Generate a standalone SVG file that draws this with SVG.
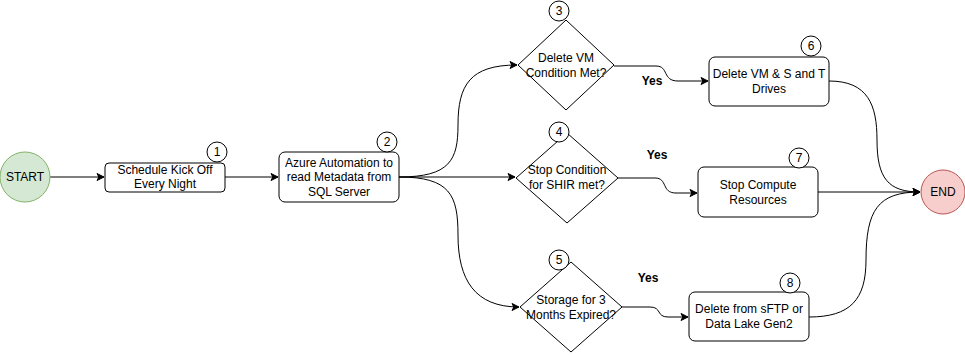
<svg xmlns="http://www.w3.org/2000/svg" width="965" height="355" viewBox="0 0 965 355">
  <style>
    text { font-family: "Liberation Sans", Arial, sans-serif; font-size: 12px; fill: #000; text-anchor: middle; }
    .box { fill: #fff; stroke: #000; stroke-width: 1; }
    .badge { fill: #fff; stroke: #000; stroke-width: 1; }
    .edge { fill: none; stroke: #000; stroke-width: 1; marker-end: url(#arrow); }
    .yes { font-weight: bold; }
  </style>
  <defs>
    <marker id="arrow" markerWidth="10" markerHeight="10" refX="8" refY="5" orient="auto" markerUnits="userSpaceOnUse">
      <path d="M1,1.5 L8,5 L1,8.5 L2.8,5 Z" fill="#000" stroke="#000" stroke-width="1"/>
    </marker>
  </defs>
  <rect width="965" height="355" fill="#fff"/>

  <g id="connectors">
    <path class="edge" d="M50,177 L104,177"/>
    <path class="edge" d="M225,177 L278,177"/>
    <path class="edge" d="M399,177 C450,177 458,160 458,125 C458,85 470,65 517,65"/>
    <path class="edge" d="M399,177 L515,177"/>
    <path class="edge" d="M399,177 C450,177 458,195 458,235 C458,280 475,307 519,307"/>
    <path class="edge" d="M614,66 L656,66 C669,66 662,81 678,81 L708,81"/>
    <path class="edge" d="M618,178 L655,178 C668,178 661,193 676,193 L697,193"/>
    <path class="edge" d="M622,307 L650,307 C662,307 656,317 668,317 L688,317"/>
    <path class="edge" d="M829,81 C868,81 877,105 877,140 C877,178 888,192 920,192"/>
    <path class="edge" d="M818,192 L920,192"/>
    <path class="edge" d="M809,317 C850,317 866,300 866,260 C866,210 878,192 920,192"/>
    <text class="yes" x="652" y="85">Yes</text>
    <text class="yes" x="657" y="159">Yes</text>
    <text class="yes" x="648" y="282">Yes</text>
  </g>

  <g id="start">
    <circle cx="25" cy="177" r="25" fill="#d5e8d4" stroke="#82b366"/>
    <text x="25" y="181">START</text>
  </g>

  <g id="step1">
    <rect class="box" x="105" y="163" width="120" height="29" rx="4"/>
    <text x="165" y="174">Schedule Kick Off</text>
    <text x="165" y="188">Every Night</text>
    <circle class="badge" cx="217" cy="152" r="10"/>
    <text x="217" y="156">1</text>
  </g>

  <g id="step2">
    <rect class="box" x="279" y="152" width="120" height="50" rx="6"/>
    <text x="339" y="167">Azure Automation to</text>
    <text x="339" y="181">read Metadata from</text>
    <text x="339" y="196">SQL Server</text>
    <circle class="badge" cx="387" cy="142" r="10"/>
    <text x="387" y="146">2</text>
  </g>

  <g id="step3">
    <polygon class="box" points="566,20 614,65 566,110 518,65"/>
    <text x="566" y="62">Delete VM</text>
    <text x="566" y="77">Condition Met?</text>
    <circle class="badge" cx="559" cy="11" r="10"/>
    <text x="559" y="15">3</text>
  </g>

  <g id="step4">
    <polygon class="box" points="567,133 618,178 567,223 516,178"/>
    <text x="567" y="174">Stop Condition</text>
    <text x="567" y="189">for SHIR met?</text>
    <circle class="badge" cx="559" cy="132" r="10"/>
    <text x="559" y="136">4</text>
  </g>

  <g id="step5">
    <polygon class="box" points="571,262 622,307 571,352 520,307"/>
    <text x="571" y="304">Storage for 3</text>
    <text x="571" y="319">Months Expired?</text>
    <circle class="badge" cx="559" cy="260" r="10"/>
    <text x="559" y="264">5</text>
  </g>

  <g id="step6">
    <rect class="box" x="709" y="57" width="120" height="49" rx="6"/>
    <text x="769" y="78">Delete VM &amp; S and T</text>
    <text x="769" y="93">Drives</text>
    <circle class="badge" cx="811" cy="46" r="10"/>
    <text x="811" y="50">6</text>
  </g>

  <g id="step7">
    <rect class="box" x="698" y="167" width="120" height="50" rx="6"/>
    <text x="758" y="189">Stop Compute</text>
    <text x="758" y="204">Resources</text>
    <circle class="badge" cx="799" cy="158" r="10"/>
    <text x="799" y="162">7</text>
  </g>

  <g id="step8">
    <rect class="box" x="689" y="292" width="120" height="49" rx="6"/>
    <text x="749" y="313">Delete from sFTP or</text>
    <text x="749" y="328">Data Lake Gen2</text>
    <circle class="badge" cx="790" cy="283" r="10"/>
    <text x="790" y="287">8</text>
  </g>

  <g id="end">
    <circle cx="943" cy="192" r="22" fill="#f8cecc" stroke="#b85450"/>
    <text x="943" y="196">END</text>
  </g>
</svg>
